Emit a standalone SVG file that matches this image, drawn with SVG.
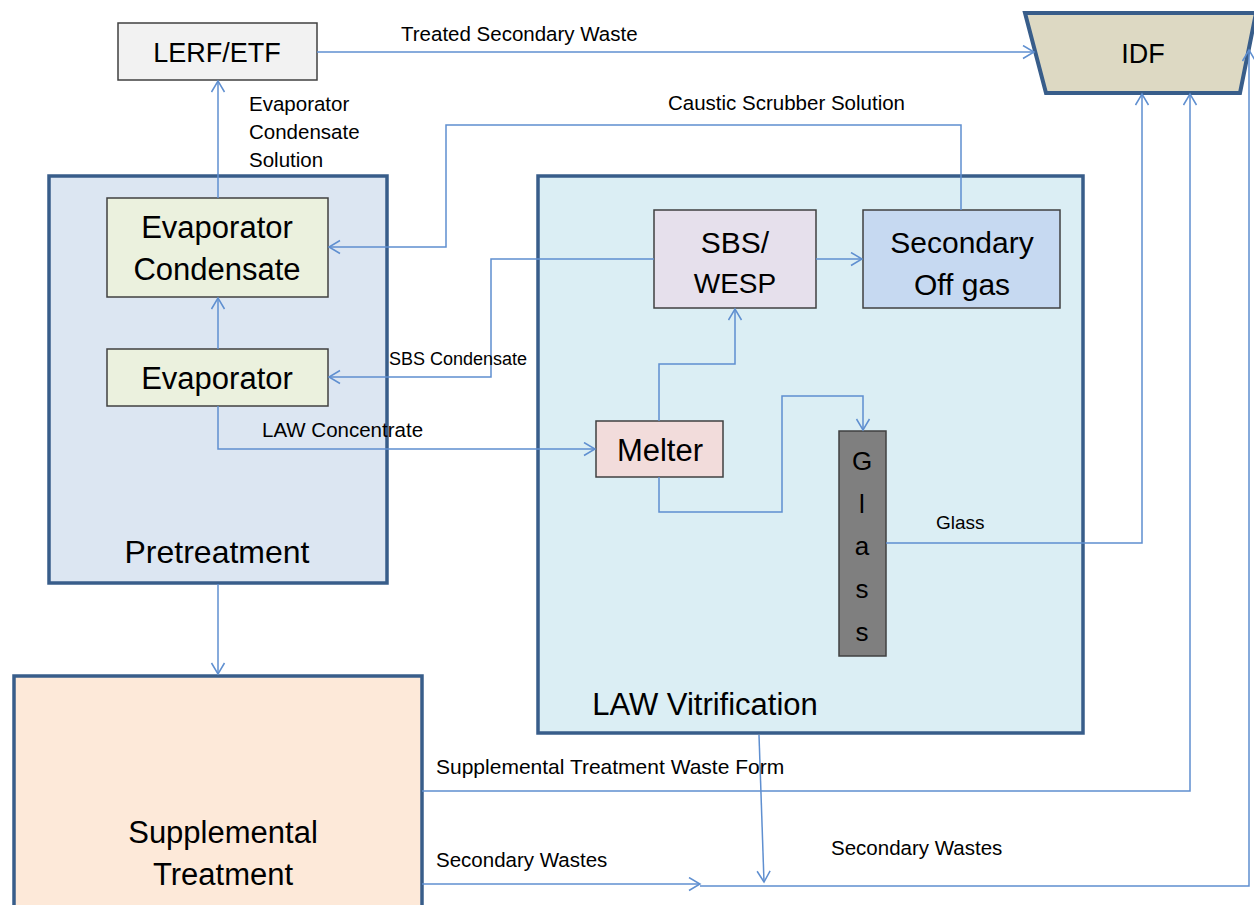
<svg xmlns="http://www.w3.org/2000/svg" width="1254" height="905" viewBox="0 0 1254 905">
<style>
text{font-family:"Liberation Sans",Arial,sans-serif;fill:#000}
.big{text-anchor:middle}
.lbl{font-size:20.5px}
.cont{stroke:#385d8a;stroke-width:3.5}
.box{stroke:#404040;stroke-width:1.5}
.conn path{fill:none;stroke:#5f8fd0;stroke-width:1.5}
</style>
<defs>
<marker id="arr" markerUnits="userSpaceOnUse" markerWidth="14" markerHeight="16" viewBox="-1 -1 14 16" refX="11" refY="6.5" orient="auto">
<path d="M0,0 L11,6.5 L0,13" fill="none" stroke="#5f8fd0" stroke-width="1.5"/>
</marker>
</defs>

<g id="pretreatment">
<rect class="cont" x="49" y="176" width="338" height="407" fill="#dce6f2"/>
<text class="big" x="217" y="563" font-size="32">Pretreatment</text>
</g>
<g id="law-vitrification">
<rect class="cont" x="538" y="176" width="545" height="557" fill="#dbeef4"/>
<text class="big" x="705" y="715" font-size="31">LAW Vitrification</text>
</g>
<g id="supplemental-treatment">
<rect class="cont" x="14" y="676" width="408" height="240" fill="#fde9d9"/>
<text class="big" x="223" y="843" font-size="31">Supplemental</text>
<text class="big" x="223" y="885" font-size="31">Treatment</text>
</g>
<g id="lerf-etf">
<rect class="box" x="118" y="23" width="199" height="57" fill="#f2f2f2"/>
<text class="big" x="217" y="62" font-size="27">LERF/ETF</text>
</g>
<g id="idf">
<polygon points="1025,13 1256,13 1240,93 1046,93" fill="#ddd9c3" stroke="#385d8a" stroke-width="4"/>
<text class="big" x="1143" y="63" font-size="27">IDF</text>
</g>
<g id="evaporator-condensate">
<rect class="box" x="107" y="198" width="221" height="99" fill="#ebf1de"/>
<text class="big" x="217" y="238" font-size="31">Evaporator</text>
<text class="big" x="217" y="280" font-size="31">Condensate</text>
</g>
<g id="evaporator">
<rect class="box" x="107" y="349" width="221" height="57" fill="#ebf1de"/>
<text class="big" x="217" y="389" font-size="31">Evaporator</text>
</g>
<g id="sbs-wesp">
<rect class="box" x="654" y="210" width="162" height="98" fill="#e6e0ec"/>
<text class="big" x="735" y="253" font-size="30">SBS/</text>
<text class="big" x="735" y="293" font-size="28">WESP</text>
</g>
<g id="secondary-offgas">
<rect class="box" x="863" y="210" width="197" height="98" fill="#c6d9f1"/>
<text class="big" x="962" y="253" font-size="30">Secondary</text>
<text class="big" x="962" y="295" font-size="30">Off gas</text>
</g>
<g id="melter">
<rect class="box" x="596" y="421" width="127" height="56" fill="#f2dcdb"/>
<text class="big" x="660" y="461" font-size="31">Melter</text>
</g>
<g id="glass">
<rect class="box" x="839" y="431" width="47" height="225" fill="#7f7f7f"/>
<text class="big" x="862" y="470" font-size="26">G</text>
<text class="big" x="862" y="513" font-size="26">l</text>
<text class="big" x="862" y="555" font-size="26">a</text>
<text class="big" x="862" y="598" font-size="26">s</text>
<text class="big" x="862" y="641" font-size="26">s</text>
</g>

<g id="connectors" class="conn">
<path d="M218,198 V81" marker-end="url(#arr)"/>
<path d="M317,52 H1034" marker-end="url(#arr)"/>
<path d="M961,210 V125 H446 V247 H329" marker-end="url(#arr)"/>
<path d="M654,259 H491 V377 H329" marker-end="url(#arr)"/>
<path d="M816,259 H862" marker-end="url(#arr)"/>
<path d="M218,349 V298" marker-end="url(#arr)"/>
<path d="M218,406 V449 H595" marker-end="url(#arr)"/>
<path d="M659,421 V364 H735 V309" marker-end="url(#arr)"/>
<path d="M659,477 V512 H782 V396 H863 V430" marker-end="url(#arr)"/>
<path d="M886,543 H1142 V94" marker-end="url(#arr)"/>
<path d="M218,584 V674" marker-end="url(#arr)"/>
<path d="M422,791 H1190 V94" marker-end="url(#arr)"/>
<path d="M422,884 H700" marker-end="url(#arr)"/>
<path d="M759,735 L764,882" marker-end="url(#arr)"/>
<path d="M700,886 H1249 V50" marker-end="url(#arr)"/>
</g>

<g id="labels">
<text class="lbl" x="401" y="41">Treated Secondary Waste</text>
<text class="lbl" x="249" y="111">Evaporator</text>
<text class="lbl" x="249" y="139">Condensate</text>
<text class="lbl" x="249" y="167">Solution</text>
<text class="lbl" x="668" y="110">Caustic Scrubber Solution</text>
<text x="389" y="365" font-size="18">SBS Condensate</text>
<text class="lbl" x="262" y="437">LAW Concentrate</text>
<text x="936" y="529" font-size="19">Glass</text>
<text x="436" y="774" font-size="21">Supplemental Treatment Waste Form</text>
<text class="lbl" x="436" y="867">Secondary Wastes</text>
<text class="lbl" x="831" y="855">Secondary Wastes</text>
</g>
</svg>
